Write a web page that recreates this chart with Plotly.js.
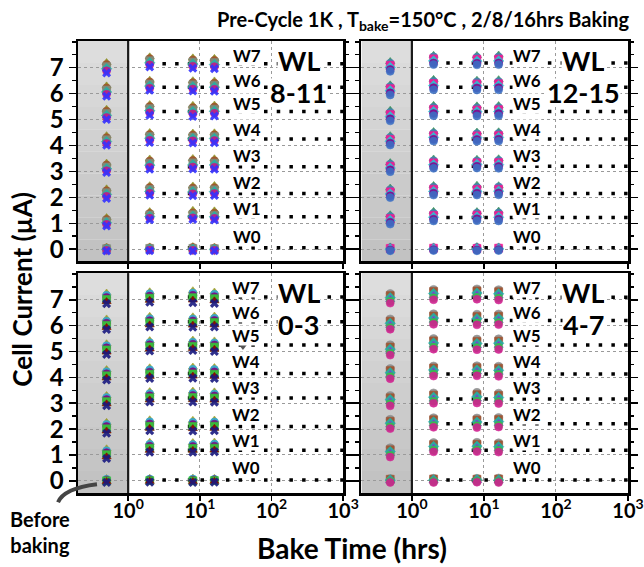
<!DOCTYPE html>
<html><head><meta charset="utf-8">
<script src="https://cdn.plot.ly/plotly-3.0.1.min.js"></script>
<style>html,body{margin:0;padding:0;background:#fff}#c{width:644px;height:567px}</style>
</head><body><div id="c"></div>
<script>
// ---- data ----
const times = [0.5, 2, 8, 16];           // 0.5 = "before baking" position
const levels = ['W0','W1','W2','W3','W4','W5','W6','W7'];
const refX = [2, 1000];

// dotted reference levels per panel
const ref_wl8_11  = [0.06, 1.25, 2.15, 3.18, 4.25, 5.31, 6.25, 7.15];
const ref_wl12_15 = [0.06, 1.22, 2.15, 3.20, 4.25, 5.31, 6.25, 7.18];
const ref_wl0_3   = [0.03, 1.18, 2.10, 3.20, 4.15, 5.25, 6.15, 7.11];
const ref_wl4_7   = [0.03, 1.18, 2.21, 3.16, 4.13, 5.25, 6.20, 7.10];

// cell current series: per level W0..W7, values at times 0.5/2/8/16
const tl_s1 = [0.08,0.09,0.10,0.08, 1.22,1.45,1.50,1.48, 2.33,2.45,2.44,2.46, 3.32,3.48,3.50,3.49, 4.38,4.50,4.48,4.49, 5.40,5.58,5.55,5.56, 6.30,6.52,6.50,6.49, 7.20,7.42,7.38,7.36];
const tl_s2 = [0.05,0.06,0.07,0.05, 1.15,1.38,1.40,1.39, 2.25,2.38,2.36,2.37, 3.25,3.40,3.42,3.41, 4.30,4.42,4.40,4.41, 5.32,5.50,5.46,5.48, 6.22,6.45,6.42,6.40, 7.12,7.35,7.30,7.28];
const tl_s3 = [0.02,0.03,0.03,0.02, 1.08,1.32,1.33,1.31, 2.18,2.30,2.28,2.29, 3.17,3.32,3.33,3.32, 4.22,4.35,4.33,4.34, 5.24,5.42,5.38,5.40, 6.14,6.37,6.34,6.33, 7.04,7.27,7.22,7.20];
const tl_s4 = [-0.01,0.00,0.00,-0.01, 1.02,1.26,1.27,1.25, 2.11,2.23,2.21,2.22, 3.10,3.24,3.25,3.25, 4.15,4.28,4.26,4.27, 5.16,5.34,5.30,5.32, 6.06,6.29,6.26,6.25, 6.96,7.19,7.14,7.12];
const tl_s5 = [-0.04,-0.03,-0.04,-0.04, 0.96,1.20,1.21,1.19, 2.04,2.16,2.14,2.15, 3.03,3.16,3.17,3.16, 4.08,4.20,4.18,4.19, 5.08,5.26,5.22,5.24, 5.98,6.21,6.18,6.17, 6.88,7.11,7.06,7.04];
const tl_s6 = [-0.07,-0.06,-0.07,-0.06, 0.90,1.14,1.15,1.13, 1.96,2.08,2.06,2.07, 2.96,3.08,3.09,3.08, 4.01,4.12,4.10,4.11, 5.00,5.17,5.12,5.14, 5.90,6.13,6.10,6.09, 6.80,7.03,6.98,6.96];

const tr_s1 = [0.09,0.09,0.10,0.09, 1.33,1.46,1.45,1.47, 2.36,2.46,2.47,2.45, 3.34,3.48,3.47,3.49, 4.38,4.54,4.52,4.53, 5.36,5.55,5.53,5.54, 6.34,6.55,6.52,6.54, 7.24,7.48,7.47,7.49];
const tr_s2 = [0.06,0.06,0.07,0.06, 1.26,1.38,1.39,1.40, 2.29,2.39,2.38,2.40, 3.28,3.41,3.40,3.42, 4.31,4.47,4.45,4.46, 5.27,5.47,5.45,5.46, 6.27,6.47,6.45,6.46, 7.17,7.42,7.40,7.41];
const tr_s3 = [0.03,0.04,0.03,0.04, 1.18,1.30,1.31,1.30, 2.21,2.31,2.30,2.31, 3.20,3.33,3.33,3.34, 4.23,4.38,4.37,4.38, 5.19,5.39,5.37,5.38, 6.19,6.39,6.37,6.38, 7.09,7.34,7.32,7.33];
const tr_s4 = [0.00,0.01,0.00,0.01, 1.11,1.23,1.24,1.23, 2.13,2.23,2.23,2.24, 3.13,3.26,3.27,3.26, 4.16,4.31,4.30,4.31, 5.11,5.31,5.30,5.31, 6.11,6.31,6.30,6.31, 7.01,7.26,7.25,7.26];
const tr_s5 = [-0.03,-0.02,-0.03,-0.02, 1.04,1.16,1.17,1.16, 2.06,2.16,2.16,2.17, 3.06,3.19,3.20,3.19, 4.09,4.24,4.23,4.24, 5.03,5.23,5.22,5.23, 6.03,6.23,6.22,6.23, 6.93,7.18,7.17,7.18];
const tr_s6 = [-0.06,-0.05,-0.06,-0.05, 0.97,1.09,1.10,1.09, 1.99,2.09,2.09,2.10, 2.99,3.12,3.13,3.12, 4.02,4.17,4.16,4.17, 4.95,5.15,5.14,5.15, 5.95,6.15,6.14,6.15, 6.86,7.12,7.11,7.12];

const bl_s1 = [0.09,0.10,0.11,0.10, 1.24,1.49,1.48,1.50, 2.26,2.36,2.34,2.35, 3.30,3.45,3.47,3.44, 4.30,4.37,4.40,4.38, 5.30,5.42,5.44,5.41, 6.26,6.36,6.34,6.37, 7.26,7.31,7.35,7.30];
const bl_s2 = [0.06,0.07,0.07,0.06, 1.16,1.41,1.40,1.42, 2.18,2.28,2.26,2.27, 3.22,3.37,3.38,3.36, 4.22,4.29,4.31,4.30, 5.22,5.34,5.36,5.33, 6.17,6.27,6.26,6.28, 7.17,7.23,7.26,7.21];
const bl_s3 = [0.03,0.04,0.03,0.04, 1.09,1.34,1.33,1.34, 2.10,2.20,2.18,2.19, 3.14,3.29,3.30,3.28, 4.14,4.20,4.22,4.21, 5.14,5.26,5.28,5.25, 6.09,6.19,6.18,6.20, 7.09,7.14,7.17,7.12];
const bl_s4 = [0.00,0.01,0.00,0.01, 1.01,1.26,1.25,1.26, 2.01,2.11,2.10,2.11, 3.06,3.21,3.22,3.20, 4.06,4.12,4.13,4.12, 5.06,5.18,5.20,5.17, 6.01,6.11,6.10,6.12, 7.01,7.06,7.08,7.04];
const bl_s5 = [-0.03,-0.02,-0.03,-0.02, 0.93,1.18,1.18,1.19, 1.93,2.03,2.02,2.03, 2.98,3.13,3.14,3.12, 3.98,4.04,4.05,4.04, 4.98,5.10,5.12,5.09, 5.93,6.03,6.02,6.03, 6.93,6.98,6.99,6.96];
const bl_s6 = [-0.06,-0.05,-0.06,-0.05, 0.86,1.11,1.11,1.12, 1.84,1.94,1.93,1.94, 2.90,3.05,3.05,3.04, 3.90,3.96,3.97,3.96, 4.88,5.02,5.04,5.00, 5.85,5.95,5.94,5.95, 6.85,6.90,6.88,6.86];
const bl_extraX = [40];
const bl_extraY = [5.23];

const br_s1 = [0.09,0.10,0.10,0.11, 1.28,1.48,1.49,1.47, 2.38,2.44,2.43,2.45, 3.30,3.40,3.42,3.39, 4.34,4.44,4.45,4.43, 5.26,5.50,5.48,5.49, 6.26,6.46,6.44,6.45, 7.24,7.40,7.42,7.39];
const br_s2 = [0.06,0.07,0.06,0.07, 1.20,1.40,1.41,1.39, 2.30,2.36,2.35,2.37, 3.21,3.31,3.33,3.30, 4.26,4.36,4.37,4.35, 5.17,5.41,5.39,5.40, 6.17,6.37,6.35,6.36, 7.16,7.32,7.34,7.31];
const br_s3 = [0.03,0.03,0.04,0.03, 1.13,1.33,1.34,1.32, 2.23,2.28,2.27,2.29, 3.14,3.23,3.25,3.22, 4.18,4.28,4.29,4.27, 5.09,5.33,5.31,5.32, 6.09,6.29,6.27,6.28, 7.08,7.24,7.26,7.23];
const br_s4 = [0.00,0.00,0.01,0.00, 1.06,1.26,1.27,1.25, 2.16,2.21,2.20,2.22, 3.06,3.16,3.17,3.15, 4.11,4.21,4.22,4.20, 5.01,5.25,5.23,5.24, 6.01,6.21,6.19,6.20, 7.01,7.16,7.18,7.15];
const br_s5 = [-0.03,-0.03,-0.02,-0.03, 0.99,1.19,1.20,1.18, 2.09,2.14,2.13,2.15, 2.98,3.08,3.09,3.07, 4.03,4.13,4.14,4.12, 4.93,5.17,5.15,5.16, 5.93,6.13,6.11,6.12, 6.94,7.08,7.10,7.07];
const br_s6 = [-0.06,-0.06,-0.05,-0.06, 0.92,1.12,1.13,1.11, 2.02,2.07,2.06,2.08, 2.90,3.00,3.01,2.99, 3.95,4.05,4.06,4.04, 4.86,5.09,5.07,5.08, 5.86,6.05,6.03,6.04, 6.87,7.00,7.02,6.99];

// ---- styles ----
const FONT = 'Lato, "Open Sans", "DejaVu Sans", sans-serif';
const panels = [
  {num:'8-11', xa:'x',  ya:'y',  ref:ref_wl8_11,  series:[tl_s1,tl_s2,tl_s3,tl_s4,tl_s5,tl_s6],
   colors:['#8B8B1A','#A0522D','#7F8F7F','#20B2AA','#C71585','#3333FF'],
   symbols:['triangle-up','circle','square','diamond','circle','x'], wx:1.66},
  {num:'12-15', xa:'x2', ya:'y2', ref:ref_wl12_15, series:[tr_s1,tr_s2,tr_s3,tr_s4,tr_s5,tr_s6],
   colors:['#2E8B57','#4682B4','#FF1493','#22C7D6','#8B008B','#3A6FC4'],
   symbols:['triangle-up','circle','square','diamond','circle','circle'], wx:1.60},
  {num:'0-3', xa:'x3', ya:'y3', ref:ref_wl0_3, series:[bl_s1,bl_s2,bl_s3,bl_s4,bl_s5,bl_s6],
   colors:['#9A9A20','#2FA8D8','#800080','#32CD32','#8B0000','#1A1A80'],
   symbols:['triangle-up','circle','circle','square','triangle-up','x'], wx:1.65},
  {num:'4-7', xa:'x4', ya:'y4', ref:ref_wl4_7, series:[br_s1,br_s2,br_s3,br_s4,br_s5,br_s6],
   colors:['#8C8C8C','#A0522D','#20B2AA','#8A2BE2','#2ECC40','#D02090'],
   symbols:['circle','square','diamond','triangle-up','circle','circle'], wx:1.60}
];

const xs = [];
levels.forEach(() => times.forEach(t => xs.push(t)));

const traces = [];
panels.forEach(p => {
  p.ref.forEach(v => {
    traces.push({x:refX, y:[v, v], xaxis:p.xa, yaxis:p.ya, mode:'lines', hoverinfo:'skip',
      line:{color:'#000', width:3.5, dash:'3.5px,9.2px'}});
  });
  p.series.forEach((s, i) => {
    traces.push({x:xs, y:s, xaxis:p.xa, yaxis:p.ya, mode:'markers', hoverinfo:'skip',
      marker:{color:p.colors[i], symbol:p.symbols[i], size:8, opacity:0.9,
              line:{width:(p.symbols[i]==='x')?0:0.6, color:p.colors[i]}}});
  });
});
traces.push({x:bl_extraX, y:bl_extraY, xaxis:'x3', yaxis:'y3', mode:'markers', hoverinfo:'skip',
  marker:{color:'#555', symbol:'triangle-down', size:9}});

// ---- layout ----
const XR = [-0.7, 3], YR = [-0.47, 8.03];
const xdom = [[0, 0.482], [0.5154, 1]];
const ydom = [[0.5124, 1], [0, 0.4865]];
function xax(dom, anchor, labels) {
  return {type:'log', range:XR, domain:dom, anchor:anchor, tickmode:'array',
    tickvals:[1,10,100,1000], ticktext:['10<sup>0</sup>','10<sup>1</sup>','10<sup>2</sup>','10<sup>3</sup>'],
    showticklabels:labels, ticks:'outside', ticklen:5, tickwidth:1.5, tickcolor:'#000',
    ticklabelstandoff:-7,
    tickfont:{family:FONT, size:20, color:'#000', weight:700},
    showline:true, linewidth:2.5, linecolor:'#000', mirror:true,
    showgrid:true, gridcolor:'#9a9a9a', griddash:'dot', gridwidth:1, zeroline:false};
}
function yax(dom, anchor, labels) {
  return {range:YR, domain:dom, anchor:anchor, tickmode:'array', tickvals:[0,1,2,3,4,5,6,7],
    showticklabels:labels, ticks:'outside', ticklen:7, tickwidth:1.5, tickcolor:'#000',
    minor:{tickmode:'array', tickvals:[0.5,1.5,2.5,3.5,4.5,5.5,6.5,7.5,8], ticks:'outside', ticklen:3.5, tickwidth:1.5, tickcolor:'#000', showgrid:false},
    tickfont:{family:FONT, size:24, color:'#000', weight:700},
    showline:true, linewidth:2.5, linecolor:'#000', mirror:'ticks',
    showgrid:true, gridcolor:'#9a9a9a', griddash:'dot', gridwidth:1, zeroline:false};
}

const shapes = [];
const annotations = [];
const grays = ['#dddddd','#dadada','#d7d7d7','#d4d4d4','#d1d1d1','#cecece','#cbcbcb','#c8c8c8','#c5c5c5','#c2c2c2'];
panels.forEach(p => {
  grays.forEach((g, k) => {
    shapes.push({type:'rect', xref:p.xa, yref:p.ya + ' domain', x0:0.1995, x1:1,
      y0:1 - (k+1)/grays.length, y1:1 - k/grays.length, fillcolor:g, line:{width:0}, layer:'below'});
  });
  shapes.push({type:'line', xref:p.xa, yref:p.ya + ' domain', x0:1, x1:1, y0:0, y1:1,
    line:{color:'#1a1a1a', width:2.2}, layer:'above'});
  levels.forEach((w, i) => {
    annotations.push({xref:p.xa, yref:p.ya, x:p.wx, y:[0.50,1.57,2.57,3.6,4.62,5.62,6.52,7.47][i],
      text:w, showarrow:false, bgcolor:'#fff', borderpad:0, xanchor:'center', yanchor:'middle', height:19,
      font:{family:FONT, size:17, color:'#000', weight:700}});
  });
  annotations.push({xref:p.xa, yref:p.ya, x:2.38, y:7.28, text:'WL', showarrow:false, bgcolor:'#fff', borderpad:0,
    xanchor:'center', yanchor:'middle', height:27, font:{family:FONT, size:27, color:'#000', weight:700}});
  annotations.push({xref:p.xa, yref:p.ya, x:2.38, y:6.06, text:p.num, showarrow:false, bgcolor:'#fff', borderpad:0,
    xanchor:'center', yanchor:'middle', height:27, font:{family:FONT, size:27, color:'#000', weight:700}});
});

annotations.push({xref:'paper', yref:'paper', x:1.0064, y:1.0453, xanchor:'right', yanchor:'middle',
  text:'Pre-Cycle 1K , T<sub>bake</sub>=150°C , 2/8/16hrs Baking', showarrow:false,
  font:{family:FONT, size:20, color:'#000', weight:700}});
annotations.push({xref:'paper', yref:'paper', x:-0.1017, y:0.45, xanchor:'center', yanchor:'middle', textangle:-90, showarrow:false,
  text:'Cell Current (µA)', font:{family:FONT, size:26, color:'#000', weight:700}});
annotations.push({xref:'paper', yref:'paper', x:0.4977, y:-0.1223, xanchor:'center', yanchor:'middle', showarrow:false,
  text:'Bake Time (hrs)', font:{family:FONT, size:28, color:'#000', weight:700}});
annotations.push({xref:'paper', yref:'paper', x:-0.069, y:-0.087, xanchor:'center', yanchor:'middle', showarrow:false, align:'center',
  text:'Before<br>baking', font:{family:FONT, size:20, color:'#000', weight:700}});
shapes.push({type:'path', xref:'paper', yref:'paper',
  path:'M -0.0363,-0.0206 Q -0.0254,0.0104 0.0345,0.0192', line:{color:'#444', width:4}});

const layout = {
  width:644, height:567, showlegend:false,
  margin:{l:78, r:15.5, t:40.5, b:74.3, pad:0},
  paper_bgcolor:'#fff', plot_bgcolor:'#fff',
  font:{family:FONT, color:'#000'},
  xaxis:xax(xdom[0], 'y', false), yaxis:yax(ydom[0], 'x', true),
  xaxis2:xax(xdom[1], 'y2', false), yaxis2:yax(ydom[0], 'x2', false),
  xaxis3:xax(xdom[0], 'y3', true), yaxis3:yax(ydom[1], 'x3', true),
  xaxis4:xax(xdom[1], 'y4', true), yaxis4:yax(ydom[1], 'x4', false),
  shapes:shapes, annotations:annotations
};
Plotly.newPlot('c', traces, layout, {displayModeBar:false, staticPlot:true});
</script></body></html>
